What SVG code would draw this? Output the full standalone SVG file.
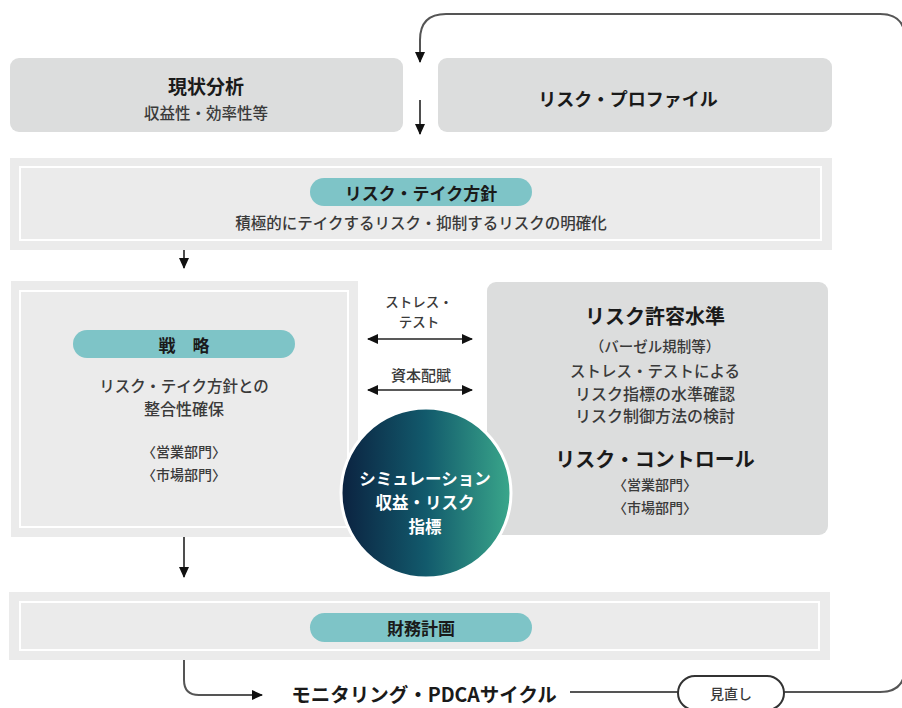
<svg xmlns="http://www.w3.org/2000/svg" width="902" height="708" viewBox="0 0 902 708">
<defs>
<style>
text{font-family:"Noto Sans CJK JP","Noto Sans",sans-serif;text-anchor:middle;dominant-baseline:central}
.box{fill:#dcdddd}
.band{fill:#ebebeb}
.inner{fill:none;stroke:#ffffff;stroke-width:2}
.pill{fill:#7ec4c7}
.b{font-weight:700;fill:#1a1a1a}
.r{font-weight:500;fill:#3a3a3a}
.w{font-weight:700;fill:#ffffff}
.ln{fill:none;stroke:#222;stroke-width:1.6}
.loop{fill:none;stroke:#555;stroke-width:2}
</style>
<marker id="ah" markerWidth="11" markerHeight="11" refX="10" refY="5.5" orient="auto-start-reverse" markerUnits="userSpaceOnUse">
<path d="M0,0.5 L11,5.5 L0,10.5 Z" fill="#111"/>
</marker>
<linearGradient id="cg" x1="0" y1="0" x2="1" y2="0">
<stop offset="0" stop-color="#0b2240"/>
<stop offset="0.5" stop-color="#125a6c"/>
<stop offset="1" stop-color="#3aa78b"/>
</linearGradient>
</defs>

<g id="connectors">
<path class="loop" d="M905,667 L905,39 Q905,14 880,14 L446,14 Q420,14 420,40 L420,62" marker-end="url(#ah)"/>
<path class="ln" d="M420,100 L420,134" marker-end="url(#ah)"/>
<path class="ln" d="M184,250 L184,268" marker-end="url(#ah)"/>
<path class="ln" d="M184,537 L184,577" marker-end="url(#ah)"/>
<path class="ln" d="M368,339 L472,339" marker-start="url(#ah)" marker-end="url(#ah)"/>
<path class="ln" d="M368,390 L472,390" marker-start="url(#ah)" marker-end="url(#ah)"/>
<path class="loop" d="M184,660 L184,680 Q184,695 199,695 L262,695" marker-end="url(#ah)"/>
<path class="loop" d="M570,692 L678,692"/>
<path class="loop" d="M784,692 L880,692 Q905,692 905,667"/>
</g>

<g id="genjo">
<rect class="box" x="10" y="58" width="393" height="74" rx="9"/>
<text class="b" x="206" y="85" font-size="19">現状分析</text>
<text class="r" x="206" y="112" font-size="15.5">収益性・効率性等</text>
</g>

<g id="profile">
<rect class="box" x="438" y="58" width="394" height="74" rx="9"/>
<text class="b" x="628" y="98" font-size="18">リスク・プロファイル</text>
</g>

<g id="policy">
<rect class="band" x="10" y="158" width="822" height="92"/>
<rect class="inner" x="20" y="167" width="801" height="73"/>
<rect class="pill" x="310" y="178" width="222" height="28" rx="14"/>
<text class="b" x="421" y="192" font-size="17">リスク・テイク方針</text>
<text class="r" x="421" y="222" font-size="15.5">積極的にテイクするリスク・抑制するリスクの明確化</text>
</g>

<g id="strategy">
<rect class="band" x="11" y="281" width="347" height="256"/>
<rect class="inner" x="20" y="291" width="328" height="236"/>
<rect class="pill" x="73" y="330" width="222" height="28" rx="14"/>
<text class="b" x="184" y="344" font-size="17">戦　略</text>
<text class="r" x="184" y="385" font-size="15.5">リスク・テイク方針との</text>
<text class="r" x="184" y="408" font-size="16">整合性確保</text>
<text class="r" x="184" y="451" font-size="14">〈営業部門〉</text>
<text class="r" x="184" y="474" font-size="14">〈市場部門〉</text>
</g>

<g id="tolerance">
<rect class="box" x="487" y="282" width="341" height="253" rx="9"/>
<text class="b" x="655" y="315" font-size="20">リスク許容水準</text>
<text class="r" x="655" y="345" font-size="14.5">（バーゼル規制等）</text>
<text class="r" x="655" y="370" font-size="15.5">ストレス・テストによる</text>
<text class="r" x="655" y="393" font-size="16">リスク指標の水準確認</text>
<text class="r" x="655" y="415" font-size="16">リスク制御方法の検討</text>
<text class="b" x="655" y="458" font-size="20">リスク・コントロール</text>
<text class="r" x="655" y="484" font-size="14">〈営業部門〉</text>
<text class="r" x="655" y="507" font-size="14">〈市場部門〉</text>
</g>

<g id="labels">
<text class="r" x="419" y="301" font-size="13.5">ストレス・</text>
<text class="r" x="419" y="321" font-size="13.5">テスト</text>
<text class="r" x="421" y="374" font-size="15">資本配賦</text>
</g>

<g id="simulation">
<circle cx="426" cy="493" r="85" fill="url(#cg)" stroke="#ffffff" stroke-width="3"/>
<text class="w" x="425" y="478" font-size="16.5">シミュレーション</text>
<text class="w" x="425" y="502" font-size="16.5">収益・リスク</text>
<text class="w" x="425" y="526" font-size="16.5">指標</text>
</g>

<g id="finance">
<rect class="band" x="9" y="592" width="821" height="68"/>
<rect class="inner" x="20" y="602" width="799" height="48"/>
<rect class="pill" x="310" y="613" width="222" height="29" rx="14.5"/>
<text class="b" x="421" y="627.5" font-size="17">財務計画</text>
</g>

<g id="monitoring">
<text class="b" x="424" y="693" font-size="19.5">モニタリング・PDCAサイクル</text>
</g>

<g id="review">
<rect x="678" y="676" width="106" height="34" rx="17" fill="#ffffff" stroke="#333" stroke-width="2"/>
<text class="r" x="731" y="693" font-size="14">見直し</text>
</g>
</svg>
